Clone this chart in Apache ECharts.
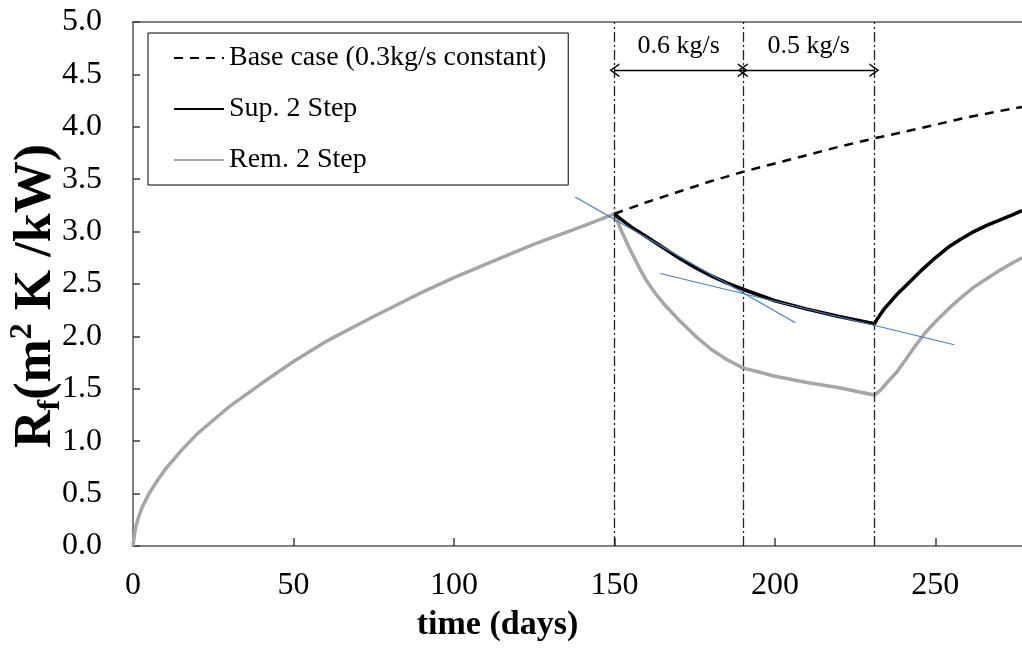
<!DOCTYPE html>
<html>
<head>
<meta charset="utf-8">
<script src="https://cdn.jsdelivr.net/npm/echarts@6/dist/echarts.min.js"></script>
<style>
  html, body {margin: 0; padding: 0; background: #fff;}
  #chart {width: 1022px; height: 651px;}
</style>
</head>
<body>
<div id="chart"></div>
<script>
let line_name = ['Base case (0.3kg/s constant)', 'Sup. 2 Step', 'Rem. 2 Step']

// 0~150 days: all cases overlap (drawn as the grey line)
let day_start = [0, 0.5, 1, 2, 3, 5, 7.5, 10, 15, 20, 25, 30, 40, 50, 60, 75, 90, 100, 110, 125, 140, 150]
let rf_start = [0, 0.12, 0.2, 0.3, 0.38, 0.5, 0.62, 0.73, 0.91, 1.07, 1.2, 1.33, 1.55, 1.76, 1.95, 2.19, 2.42, 2.56, 2.69, 2.88, 3.05, 3.17]

let day_base = [150, 160, 170, 180, 190, 200, 210, 220, 231, 240, 250, 260, 270, 277]
let rf_base = [3.17, 3.28, 3.38, 3.48, 3.57, 3.65, 3.73, 3.81, 3.89, 3.95, 4.02, 4.09, 4.15, 4.19]

let day_sup = [150, 152, 155, 158, 160, 165, 170, 175, 180, 185, 190, 200, 210, 220, 231,
  232, 234, 236, 238, 240, 243, 246, 250, 254, 258, 262, 266, 270, 274, 277]
let rf_sup = [3.17, 3.12, 3.05, 2.99, 2.95, 2.85, 2.75, 2.66, 2.58, 2.51, 2.45, 2.34, 2.26, 2.19, 2.12,
  2.17, 2.26, 2.33, 2.4, 2.46, 2.55, 2.64, 2.75, 2.85, 2.93, 3.0, 3.06, 3.11, 3.16, 3.2]

let day_rem = [150, 152, 155, 158, 160, 163, 166, 170, 175, 180, 185, 190, 195, 200, 210, 220, 231,
  233, 235, 238, 241, 244, 247, 250, 254, 258, 262, 266, 270, 274, 277]
let rf_rem = [3.17, 3.02, 2.82, 2.64, 2.53, 2.4, 2.29, 2.16, 2.01, 1.88, 1.78, 1.7, 1.66, 1.62, 1.56, 1.51, 1.44,
  1.49, 1.56, 1.66, 1.79, 1.92, 2.04, 2.14, 2.26, 2.37, 2.47, 2.55, 2.63, 2.7, 2.75]

// flow-rate change days and the rates between them
let change_day = [150, 190, 231]
let rate_text = ['0.6 kg/s', '0.5 kg/s']
let arrow_rf = 4.54

// blue tangent lines
let tangent_1 = [[137.8, 3.33], [206.4, 2.13]]
let tangent_2 = [[164.3, 2.6], [255.9, 1.92]]

let zip = (xs, ys) => xs.map((x, i) => [x, ys[i]])
let font = 'Liberation Serif'
let chevron = 'path://M0,10 L5,0 L10,10 L8.8,10 L5,2.4 L1.2,10 Z'

let mark_data = change_day.map(d => ({
  xAxis: d,
  lineStyle: {color: '#222', width: 1.3, type: [10, 3, 2, 3]},
  label: {show: false}
}))
rate_text.forEach((t, i) => {
  mark_data.push([
    {
      coord: [change_day[i], arrow_rf], symbol: chevron, symbolSize: [14, 10],
      lineStyle: {color: '#000', width: 1.3, type: 'solid'},
      label: {
        show: true, formatter: t, position: 'insideMiddleTop', distance: 11,
        color: '#000', fontFamily: font, fontSize: 26
      }
    },
    {coord: [change_day[i + 1], arrow_rf], symbol: chevron, symbolSize: [14, 10]}
  ])
})

let options = {
  animation: false,
  grid: {left: 133, right: 0, top: 22, bottom: 105, containLabel: false, outerBoundsMode: 'none'},
  legend: {
    data: line_name,
    orient: 'vertical',
    left: 148,
    top: 33,
    padding: [11, 22, 11, 25],
    itemGap: 23,
    itemWidth: 50,
    itemHeight: 6,
    borderColor: '#000',
    borderWidth: 1,
    backgroundColor: '#fff',
    itemStyle: {opacity: 0},
    textStyle: {color: '#000', fontFamily: font, fontSize: 28}
  },
  xAxis: [{
    type: 'value',
    min: 0,
    max: 277,
    interval: 50,
    name: 'time (days)',
    nameLocation: 'middle',
    nameGap: 62,
    nameMoveOverlap: false,
    nameTextStyle: {color: '#000', fontFamily: font, fontSize: 34, fontWeight: 'bold', padding: [0, 160, 0, 0]},
    axisLine: {lineStyle: {color: '#595959', width: 1.5}},
    axisTick: {show: true, inside: true, length: 8, lineStyle: {color: '#404040', width: 1.5}},
    axisLabel: {color: '#000', fontFamily: font, fontSize: 32, margin: 24, showMaxLabel: false},
    splitLine: {show: false}
  }, {
    type: 'value',
    position: 'top',
    min: 0,
    max: 277,
    axisLine: {show: true, lineStyle: {color: '#595959', width: 1.5}},
    axisTick: {show: false},
    axisLabel: {show: false},
    splitLine: {show: false}
  }],
  yAxis: {
    type: 'value',
    min: 0,
    max: 5,
    interval: 0.5,
    name: '{r|R}{s|f}{n|(m}{p|2}{n| K /kW)}',
    nameLocation: 'middle',
    nameGap: 66,
    nameMoveOverlap: false,
    nameTextStyle: {
      color: '#000',
      fontFamily: font,
      fontWeight: 'bold',
      padding: [0, 24, 0, 0],
      rich: {
        r: {fontFamily: font, fontWeight: 'bold', fontSize: 52, lineHeight: 60, color: '#000'},
        n: {fontFamily: font, fontWeight: 'bold', fontSize: 52, lineHeight: 60, color: '#000'},
        s: {fontFamily: font, fontWeight: 'bold', fontSize: 32, lineHeight: 30, verticalAlign: 'bottom', color: '#000'},
        p: {fontFamily: font, fontWeight: 'bold', fontSize: 32, lineHeight: 30, verticalAlign: 'top', color: '#000'}
      }
    },
    axisLine: {show: true, lineStyle: {color: '#595959', width: 1.5}},
    axisTick: {show: true, inside: true, length: 7, lineStyle: {color: '#404040', width: 1.5}},
    axisLabel: {color: '#000', fontFamily: font, fontSize: 32, margin: 31, formatter: v => v.toFixed(1)},
    splitLine: {show: false}
  },
  series: [
    {
      name: line_name[0],
      type: 'line',
      symbol: 'none',
      data: zip(day_base, rf_base),
      lineStyle: {color: '#000', width: 2.5, type: [9, 7]},
      itemStyle: {color: '#000'},
      z: 3
    },
    {
      name: line_name[1],
      type: 'line',
      symbol: 'none',
      data: zip(day_sup, rf_sup),
      lineStyle: {color: '#000', width: 3.5},
      itemStyle: {color: '#000'},
      z: 4
    },
    {
      name: line_name[2],
      type: 'line',
      symbol: 'none',
      data: zip(day_start, rf_start).concat(zip(day_rem.slice(1), rf_rem.slice(1))),
      lineStyle: {color: '#a6a6a6', width: 3.5},
      itemStyle: {color: '#a6a6a6'},
      z: 3
    },
    {
      name: 'tangent 1',
      type: 'line',
      symbol: 'none',
      data: tangent_1,
      lineStyle: {color: '#4a7ebb', width: 1.2},
      z: 5
    },
    {
      name: 'tangent 2',
      type: 'line',
      symbol: 'none',
      data: tangent_2,
      lineStyle: {color: '#4a7ebb', width: 1.2},
      z: 5
    },
    {
      name: 'marks',
      type: 'line',
      data: [],
      markLine: {silent: true, animation: false, symbol: ['none', 'none'], data: mark_data}
    }
  ]
}

let chart = echarts.init(document.getElementById('chart'))
chart.setOption(options)
</script>
</body>
</html>
